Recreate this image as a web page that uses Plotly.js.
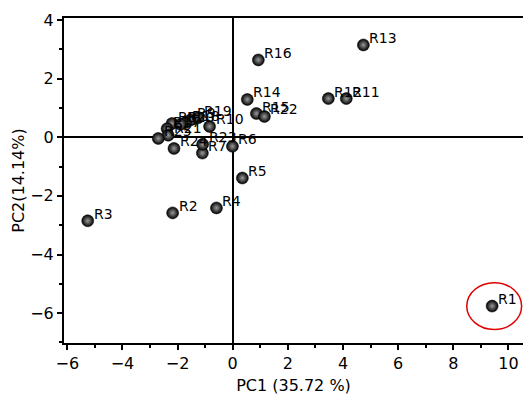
<!DOCTYPE html>
<html>
<head>
<meta charset="utf-8">
<script src="https://cdn.plot.ly/plotly-3.0.1.min.js"></script>
<style>html,body{margin:0;padding:0;background:#fff;}#chart{width:525px;height:395px;}</style>
</head>
<body>
<div id="chart"></div>
<script>
const labels = ["R1","R2","R3","R4","R5","R6","R7","R8","R9","R10","R11","R12","R13","R14","R15","R16","R17","R18","R19","R20","R21","R22","R23","R24","R25"];
const pc1 = [9.41,-2.18,-5.26,-0.59,0.35,-0.01,-1.10,-2.20,-1.53,-0.84,4.12,3.47,4.74,0.53,0.86,0.93,-2.38,-1.71,-1.25,-1.89,-2.34,1.15,-1.09,-2.13,-2.70];
const pc2 = [-5.76,-2.58,-2.85,-2.41,-1.39,-0.31,-0.54,0.47,0.59,0.37,1.32,1.32,3.15,1.29,0.81,2.64,0.29,0.50,0.67,0.44,0.07,0.71,-0.24,-0.38,-0.04];
const highlightIdx = 0;

const trace = {
  x: pc1, y: pc2,
  type: 'scatter', mode: 'markers',
  marker: {size: 12, color: '#000', gradient: {type: 'radial', color: '#9a9a9a'}, line: {width: 0.5, color: '#000'}},
  cliponaxis: false, hoverinfo: 'none'
};

const annotations = labels.map((t, i) => ({
  x: pc1[i], y: pc2[i], xref: 'x', yref: 'y', text: t, showarrow: false,
  xanchor: 'left', yanchor: 'middle', xshift: 4, yshift: 7,
  font: {family: 'DejaVu Sans, Verdana, sans-serif', size: 14, color: '#000'}
}));

const rx = 0.92, ry = 0.8;
const layout = {
  width: 525, height: 395,
  margin: {l: 64, r: 2, t: 18, b: 52},
  paper_bgcolor: '#fff', plot_bgcolor: '#fff',
  showlegend: false,
  font: {family: 'DejaVu Sans, Verdana, sans-serif', size: 15, color: '#000'},
  xaxis: {
    range: [-6.12, 10.53], dtick: 2, tick0: 0,
    showgrid: false, zeroline: true, zerolinecolor: '#000', zerolinewidth: 2,
    showline: true, linecolor: '#000', linewidth: 2, mirror: true,
    ticks: 'outside', ticklen: 5, tickwidth: 2, tickcolor: '#000',
    minor: {dtick: 1, ticks: 'outside', ticklen: 3, tickwidth: 2, tickcolor: '#000', showgrid: false},
    tickfont: {size: 16},
    title: {text: 'PC1 (35.72 %)', font: {size: 16}, standoff: 8}
  },
  yaxis: {
    range: [-7.02, 4.07], dtick: 2, tick0: 0,
    showgrid: false, zeroline: true, zerolinecolor: '#000', zerolinewidth: 2,
    showline: true, linecolor: '#000', linewidth: 2,
    ticks: 'outside', ticklen: 5, tickwidth: 2, tickcolor: '#000',
    minor: {dtick: 1, ticks: 'outside', ticklen: 3, tickwidth: 2, tickcolor: '#000', showgrid: false},
    tickfont: {size: 16},
    title: {text: 'PC2(14.14%)', font: {size: 16}, standoff: 2}
  },
  annotations: annotations,
  shapes: [{
    type: 'circle', xref: 'x', yref: 'y',
    x0: pc1[highlightIdx] - rx, x1: pc1[highlightIdx] + rx + 0.15,
    y0: pc2[highlightIdx] - ry, y1: pc2[highlightIdx] + ry,
    line: {color: '#e00000', width: 1.5}
  }]
};

Plotly.newPlot('chart', [trace], layout, {displayModeBar: false, staticPlot: true});
</script>
</body>
</html>
